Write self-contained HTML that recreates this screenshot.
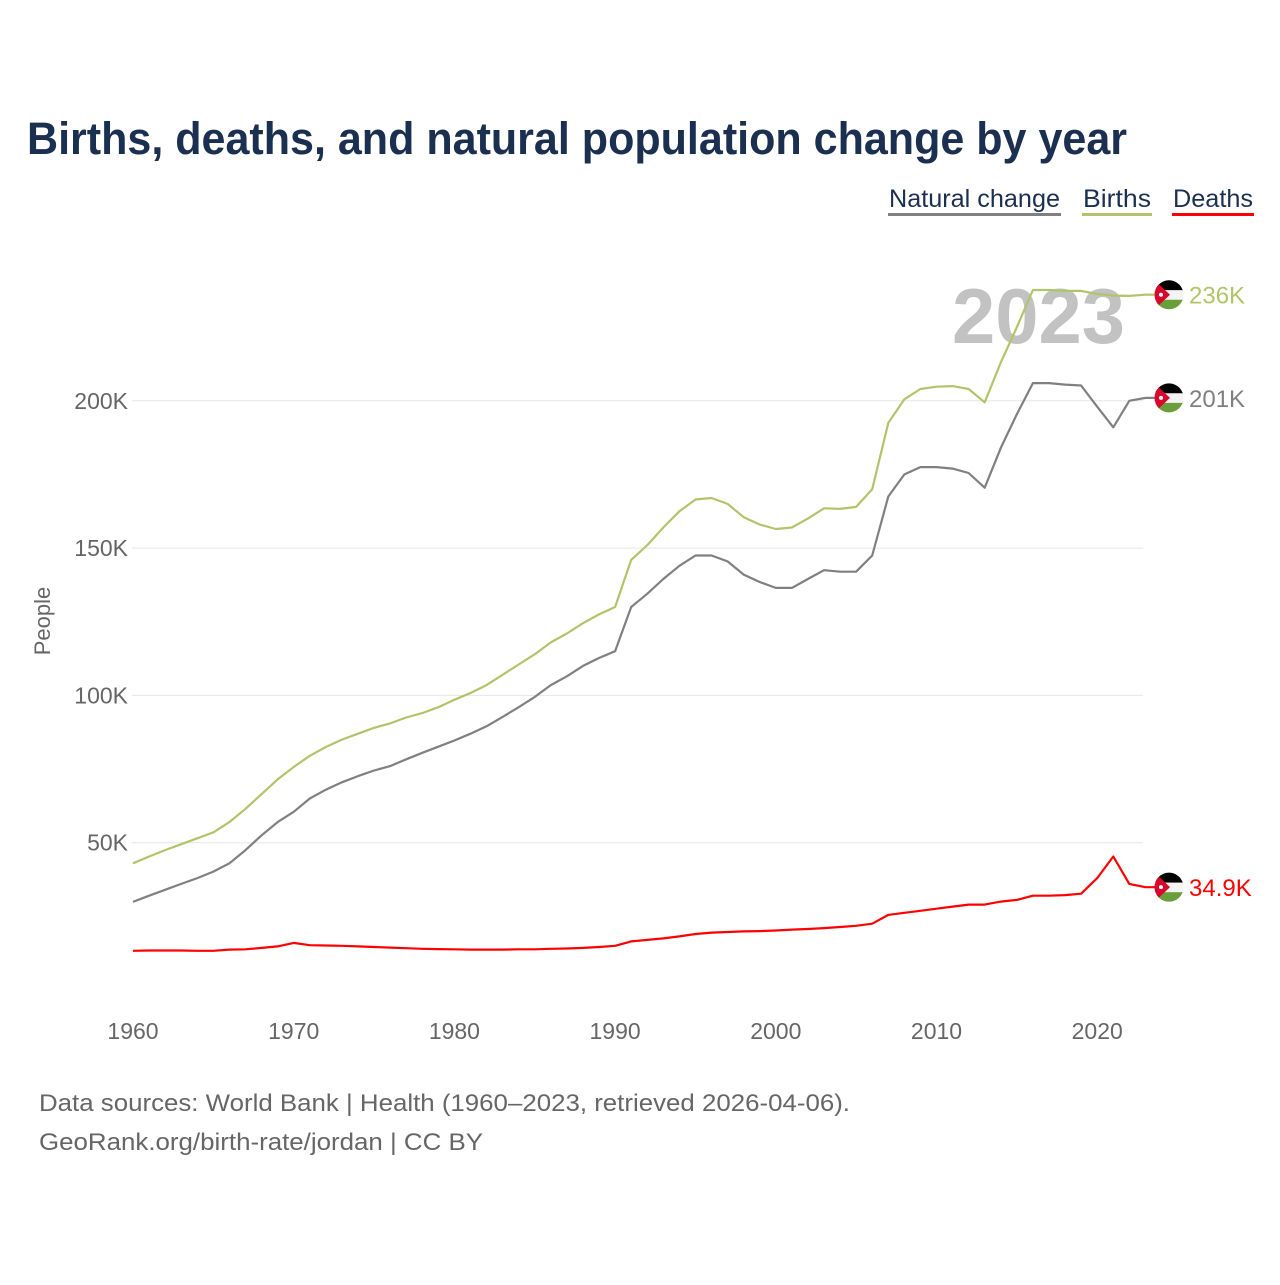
<!DOCTYPE html>
<html><head><meta charset="utf-8"><style>
body{margin:0;background:#fff;}
svg text{font-family:"Liberation Sans",sans-serif;}
</style></head><body>
<svg id="chart" width="1280" height="1280" xmlns="http://www.w3.org/2000/svg">
<text x="27" y="154" font-size="45" font-weight="bold" fill="#1b2f50" textLength="1100" lengthAdjust="spacingAndGlyphs">Births, deaths, and natural population change by year</text>
<g>
<g><text x="889" y="207" font-size="25" fill="#1b2f50" textLength="171" lengthAdjust="spacingAndGlyphs">Natural change</text><rect x="888" y="213" width="173" height="3" fill="#808080"/></g>
<g><text x="1083" y="207" font-size="25" fill="#1b2f50" textLength="68" lengthAdjust="spacingAndGlyphs">Births</text><rect x="1082" y="213" width="70" height="3" fill="#b2c46a"/></g>
<g><text x="1173" y="207" font-size="25" fill="#1b2f50" textLength="80" lengthAdjust="spacingAndGlyphs">Deaths</text><rect x="1172" y="213" width="82" height="3" fill="#ff0000"/></g>
</g>
<text x="952" y="343" font-size="78" font-weight="bold" fill="#c2c2c2" textLength="173" lengthAdjust="spacingAndGlyphs">2023</text>
<g id="grid"></g><g id="series"></g><g id="labels"></g>
<text transform="translate(50,621) rotate(-90)" text-anchor="middle" font-size="22" fill="#666">People</text>
<text x="39" y="1111" font-size="24" fill="#666" textLength="811" lengthAdjust="spacingAndGlyphs">Data sources: World Bank | Health (1960–2023, retrieved 2026-04-06).</text>
<text x="39" y="1150" font-size="24" fill="#666" textLength="444" lengthAdjust="spacingAndGlyphs">GeoRank.org/birth-rate/jordan | CC BY</text>
</svg>
<script>
const years=[];for(let y=1960;y<=2023;y++)years.push(y);
const births=[43,45.3,47.5,49.5,51.5,53.5,57,61.5,66.5,71.5,75.7,79.5,82.5,85,87,89,90.5,92.5,94,96,98.5,100.8,103.5,107,110.5,114,118,121,124.5,127.5,130,146,151,157,162.5,166.5,167,165,160.5,158,156.5,157,160,163.5,163.3,164,170,192.5,200.5,204,204.8,205,204,199.5,213,225,237.6,237.6,237.3,237.3,236.3,235.7,235.6,236];
const deaths=[13.3,13.4,13.4,13.4,13.3,13.3,13.7,13.8,14.3,14.8,16,15.2,15.1,15,14.8,14.6,14.4,14.2,14,13.9,13.8,13.7,13.7,13.7,13.8,13.8,14,14.1,14.3,14.6,15,16.5,17,17.5,18.2,19,19.5,19.7,19.9,20,20.2,20.5,20.7,21,21.4,21.8,22.5,25.5,26.2,26.9,27.6,28.3,29,29,30,30.6,32,32,32.2,32.7,38,45.3,36,34.9];
const natural=[29.9,32,34,36,38,40.2,43,47.5,52.5,57,60.5,65,68,70.5,72.6,74.5,76,78.3,80.5,82.6,84.7,87,89.5,92.7,96,99.5,103.5,106.5,110,112.7,115,130,134.5,139.5,144,147.5,147.5,145.5,141,138.5,136.5,136.5,139.5,142.5,142,142,147.5,167.5,175,177.5,177.5,177,175.5,170.5,184,195.5,206,206,205.5,205.2,198,191,200,201];
const yTicks=[50,100,150,200];
const xTicks=[1960,1970,1980,1990,2000,2010,2020];
const endLabels=["236K","201K","34.9K"];
const NS="http://www.w3.org/2000/svg";
const X=y=>133+(y-1960)*16.07;
const Y=v=>990-v*2.946;
function mk(t,a,p){const e=document.createElementNS(NS,t);for(const k in a)e.setAttribute(k,a[k]);p.appendChild(e);return e;}
const grid=document.getElementById('grid'),ser=document.getElementById('series'),lab=document.getElementById('labels');
yTicks.forEach(v=>{
 const l=mk('line',{x1:132,x2:1143,y1:Y(v),y2:Y(v),stroke:'#e6e6e6','stroke-width':1},grid);
 
 
 const t=mk('text',{x:128,y:Y(v)+8,'text-anchor':'end','font-size':23,fill:'#666'},lab);
 t.textContent=v+'K';
 
 
});
xTicks.forEach(v=>{
 const t=mk('text',{x:X(v),y:1039,'text-anchor':'middle','font-size':23,fill:'#666'},lab);
 t.textContent=v;
 
 
});
const series=[['births',births,'#b2c46a',0],['natural-change',natural,'#808080',1],['deaths',deaths,'#ff0000',2]];
series.forEach(([n,d,c,i])=>{
 const pts=d.map((v,k)=>X(years[k]).toFixed(1)+','+Y(v).toFixed(1));
 const last=d[d.length-1];
 pts.push('1156,'+Y(last).toFixed(1));
 const p=mk('polyline',{points:pts.join(' '),fill:'none',stroke:c,'stroke-width':2.2,'stroke-linejoin':'round'},ser);
 
 
 const cy=Y(last),cx=1169;
 const g=mk('g',{},ser);
 
 
 const cid='clip'+i;
 const cp=mk('clipPath',{id:cid},g);mk('circle',{cx:cx,cy:cy,r:14.5},cp);
 const gg=mk('g',{'clip-path':'url(#'+cid+')'},g);
 mk('rect',{x:cx-15,y:cy-15,width:30,height:10.5,fill:'#000'},gg);
 mk('rect',{x:cx-15,y:cy-4.5,width:30,height:9.5,fill:'#f4f4f4'},gg);
 mk('rect',{x:cx-15,y:cy+5,width:30,height:10.5,fill:'#6a9e3a'},gg);
 mk('polygon',{points:(cx-15)+','+(cy-15)+' '+(cx+1)+','+cy+' '+(cx-15)+','+(cy+15),fill:'#d9072c'},gg);
 mk('circle',{cx:cx-8,cy:cy,r:2,fill:'#fff'},gg);
 const t=mk('text',{x:1189,y:cy+9,'font-size':24,fill:c},lab);
 t.textContent=endLabels[i];
 
 
});
</script>
</body></html>
